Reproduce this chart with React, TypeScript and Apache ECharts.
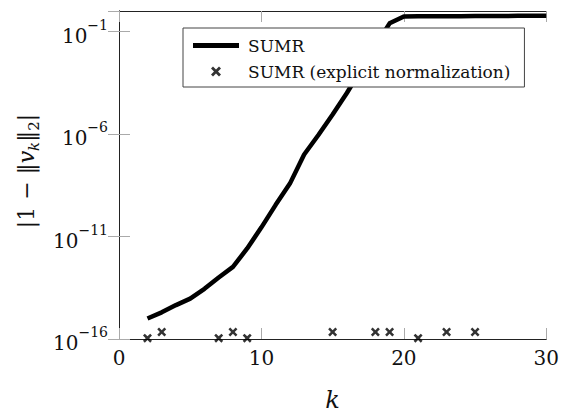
import React, { useEffect, useRef } from "react";
import * as echarts from "echarts";

// Iteration index k and the deviation |1 - ||v_k||_2| for plain SUMR
const sumrK = [2, 3, 4, 5, 6, 7, 8, 9, 10, 11, 12, 13, 14, 15, 16, 17, 18, 19, 20, 21, 22, 23, 24, 25, 26, 27, 28, 29, 30];
const sumrDev = [
  1.0e-15, 2.0e-15, 4.5e-15, 9.3e-15, 2.8e-14, 1.0e-13, 3.3e-13, 2.6e-12, 2.8e-11, 3.5e-10,
  3.8e-9, 1.0e-7, 8.9e-7, 8.9e-6, 1.0e-4, 1.4e-3, 2.0e-2, 0.25, 0.54, 0.55,
  0.55, 0.56, 0.56, 0.57, 0.57, 0.57, 0.58, 0.58, 0.58,
];

// SUMR with explicit normalization: only round-off level deviations
const normK = [2, 3, 7, 8, 9, 15, 18, 19, 21, 23, 25];
const normDev = [1.1e-16, 2.2e-16, 1.1e-16, 2.2e-16, 1.1e-16, 2.2e-16, 2.2e-16, 2.2e-16, 1.1e-16, 2.2e-16, 2.2e-16];

// Axis settings
const xTicks = { min: 0, max: 30, interval: 10 };
const yExtent = { min: 1e-16, max: 1, decadeStep: 5 };

const seriesNames = ["SUMR", "SUMR (explicit normalization)"];

const FONT = "DejaVu Serif";
const INK = "#111";
const CROSS = "path://M0,2 L2,0 L5,3 L8,0 L10,2 L7,5 L10,8 L8,10 L5,7 L2,10 L0,8 L3,5 Z";
const BAR = "path://M0,0 H46 V5 H0 Z";

export default function App() {
  const ref = useRef<HTMLDivElement>(null);

  useEffect(() => {
    document.body.style.margin = "0";
    const el = ref.current;
    if (!el) return;
    const chart = echarts.init(el, null, { renderer: "svg" });

    const frameLine = { show: true, lineStyle: { color: "#222", width: 1 } };
    const innerTick = { show: true, inside: true, length: 11, lineStyle: { color: "#aaa", width: 1 } };

    // 10^e labels for the decade ticks
    const powLabel = (v: number) => {
      const e = Math.round(Math.log10(v));
      return `{b|10}{e|${e < 0 ? "\u2212" + -e : e}}`;
    };

    chart.setOption({
      animation: false,
      backgroundColor: "#fff",
      textStyle: { fontFamily: FONT },
      grid: { left: 119, right: 14, top: 11, bottom: 69, containLabel: false },
      legend: {
        orient: "vertical",
        left: 183,
        top: 28,
        padding: [9, 14, 7, 10],
        itemGap: 9,
        itemWidth: 46,
        itemHeight: 10,
        backgroundColor: "#fff",
        borderColor: "#444",
        borderWidth: 1,
        borderRadius: 0,
        textStyle: { fontFamily: FONT, fontSize: 17, color: INK, padding: [0, 0, 0, 4] },
        data: [
          { name: seriesNames[0], icon: BAR },
          { name: seriesNames[1], icon: CROSS },
        ],
      },
      xAxis: [
        {
          type: "value",
          position: "bottom",
          ...xTicks,
          axisLine: frameLine,
          axisTick: innerTick,
          splitLine: { show: false },
          axisLabel: { fontFamily: FONT, fontSize: 20, color: INK, margin: 9 },
          name: "k",
          nameLocation: "middle",
          nameGap: 49,
          nameTextStyle: { fontFamily: FONT, fontSize: 24, fontStyle: "italic", color: INK },
        },
        {
          type: "value",
          position: "top",
          ...xTicks,
          axisLine: frameLine,
          axisTick: innerTick,
          splitLine: { show: false },
          axisLabel: { show: false },
        },
      ],
      yAxis: [
        {
          type: "log",
          logBase: 10,
          position: "left",
          min: yExtent.min,
          max: yExtent.max,
          interval: yExtent.decadeStep,
          axisLine: frameLine,
          axisTick: innerTick,
          minorTick: { show: false },
          splitLine: { show: false },
          axisLabel: {
            showMaxLabel: false,
            margin: 11,
            formatter: powLabel,
            rich: {
              b: { fontFamily: FONT, fontSize: 20, color: INK, lineHeight: 28, verticalAlign: "bottom" },
              e: { fontFamily: FONT, fontSize: 14, color: INK, lineHeight: 14, verticalAlign: "top" },
            },
          },
          name: "{t|\u007C1 \u2212 \u2016}{i|v}{s|k}{t|\u2016}{n|2}{t|\u007C}",
          nameLocation: "middle",
          nameRotate: 90,
          nameGap: 78,
          nameTextStyle: {
            padding: [0, 0, 0, 8],
            rich: {
              t: { fontFamily: FONT, fontSize: 22, color: INK, lineHeight: 30 },
              i: { fontFamily: FONT, fontSize: 22, fontStyle: "italic", color: INK, lineHeight: 30 },
              s: { fontFamily: FONT, fontSize: 15, fontStyle: "italic", color: INK, lineHeight: 14, verticalAlign: "bottom" },
              n: { fontFamily: FONT, fontSize: 15, color: INK, lineHeight: 14, verticalAlign: "bottom" },
            },
          },
        },
        {
          type: "log",
          logBase: 10,
          position: "right",
          min: yExtent.min,
          max: yExtent.max,
          interval: yExtent.decadeStep,
          axisLine: frameLine,
          axisTick: innerTick,
          minorTick: { show: false },
          splitLine: { show: false },
          axisLabel: { show: false },
        },
      ],
      series: [
        {
          name: seriesNames[0],
          type: "line",
          xAxisIndex: 0,
          yAxisIndex: 0,
          data: sumrK.map((k, i) => [k, sumrDev[i]]),
          showSymbol: false,
          symbol: "none",
          lineStyle: { color: "#000", width: 4.5, join: "round" },
          itemStyle: { color: "#000" },
          z: 2,
        },
        {
          name: seriesNames[1],
          type: "scatter",
          xAxisIndex: 0,
          yAxisIndex: 0,
          data: normK.map((k, i) => [k, normDev[i]]),
          symbol: CROSS,
          symbolSize: 9,
          itemStyle: { color: "#000" },
          clip: false,
          z: 3,
        },
      ],
    });

    return () => chart.dispose();
  }, []);

  return <div ref={ref} style={{ width: 562, height: 417 }} />;
}
